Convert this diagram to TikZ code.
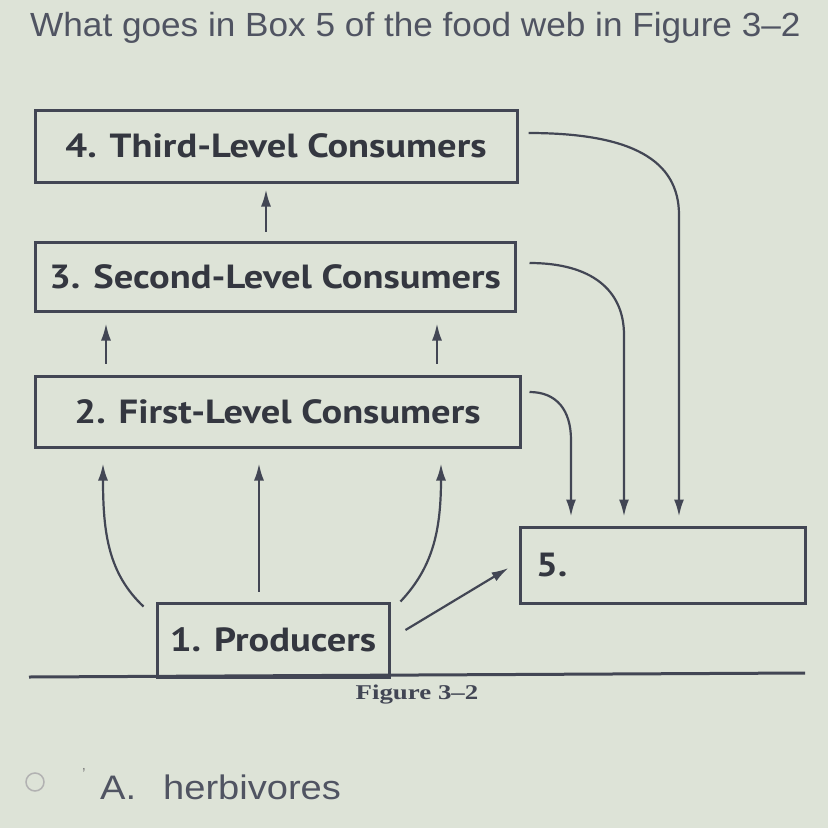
\documentclass[tikz,border=0pt]{standalone}
\usepackage{fontspec}
\setmainfont{Liberation Sans}
\newfontfamily\boxfont[FakeStretch=1.15]{PT Sans}
\newfontfamily\capfont[FakeStretch=1.28]{Liberation Serif}
\newfontfamily\qfont[FakeStretch=1.05]{Liberation Sans}
\newfontfamily\optfont[FakeStretch=1.12]{Liberation Sans}
\usetikzlibrary{arrows.meta}
\definecolor{paper}{RGB}{221,227,215}
\definecolor{ink}{RGB}{66,70,84}
\definecolor{boxtext}{RGB}{52,55,64}
\definecolor{qtext}{RGB}{80,84,98}

\begin{document}
\begin{tikzpicture}[x=1pt,y=-1pt,>={Latex[length=17pt,width=10pt]},
  box/.style={draw=ink,line width=3pt,inner sep=0pt,text=boxtext,
    font=\boxfont\bfseries\fontsize{33.5}{38}\selectfont},
  arr/.style={->,draw=ink,line width=2.2pt}]
\useasboundingbox (0,0) rectangle (828,828);
\clip (0,0) rectangle (828,828);
\fill[paper] (0,0) rectangle (828,828);

% question
\node[anchor=base west,inner sep=0pt,text=qtext,font=\qfont\fontsize{33.5}{38}\selectfont] (question) at (30,36) {What goes in Box 5 of the food web in Figure 3–2};

% the food web
\node[box,minimum width=482,minimum height=72] (third) at (276,146) {4. Third-Level Consumers};
\node[box,minimum width=480,minimum height=69] (second) at (275,276.5) {3. Second-Level Consumers};
\node[box,minimum width=485,minimum height=71] (first) at (277.5,411.5) {2. First-Level Consumers};
\node[box,minimum width=232,minimum height=74] (producers) at (273,640) {1. Producers};
\node[box,minimum width=285,minimum height=76,text width=253pt,align=left] (fifth) at (662.5,565) {5.};
\draw[draw=ink,line width=3pt] (29,677) -- (805,673); % ground line
\node[anchor=base,inner sep=0pt,text=ink,font=\capfont\bfseries\fontsize{21}{24}\selectfont] (caption) at (417,699) {Figure 3–2};

% up the chain
\draw[arr] ([xshift=-9pt,yshift=9pt]second.north) -- ([xshift=-10pt,yshift=-6pt]third.south);
\draw[arr] ([xshift=-171.5pt,yshift=11pt]first.north) -- ([xshift=-169pt,yshift=-11pt]second.south);
\draw[arr] ([xshift=159.5pt,yshift=11pt]first.north) -- ([xshift=162pt,yshift=-11pt]second.south);
\draw[arr] ([xshift=-12pt,yshift=-5pt]producers.north west) .. controls +(-35,-33) and +(0,70) .. ([xshift=-174.5pt,yshift=-15pt]first.south);
\draw[arr] ([xshift=-14pt,yshift=10pt]producers.north) -- ([xshift=-18.5pt,yshift=-15pt]first.south);
\draw[arr] ([xshift=10pt]producers.north east) .. controls +(31,-33) and +(0,70) .. ([xshift=163.5pt,yshift=-15pt]first.south);

% into box 5
\draw[arr] ([xshift=15pt,yshift=10pt]producers.east) -- ([xshift=-10pt,yshift=-3pt]fifth.west);
\draw[arr] ([xshift=8pt,yshift=19.5pt]first.east) .. controls +(27,0) and +(0,-30) .. (571,440) -- ([xshift=-91.5pt,yshift=9pt]fifth.north);
\draw[arr] ([xshift=13pt,yshift=13.5pt]second.east) .. controls +(62,0) and +(0,-45) .. (624,335) -- ([xshift=-38.5pt,yshift=9pt]fifth.north);
\draw[arr] ([xshift=10pt,yshift=13pt]third.east) .. controls +(103,0) and +(0,-55) .. (679,215) -- ([xshift=16.5pt,yshift=9pt]fifth.north);

% answer option
\node[circle,draw=gray!60,line width=1.5pt,minimum size=18pt,inner sep=0pt] (radioA) at (35,782) {};
\node[anchor=base west,inner sep=0pt,text=gray,font=\fontsize{16}{18}\selectfont] (tick) at (82,779) {'};
\node[anchor=base west,inner sep=0pt,text=qtext,font=\optfont\fontsize{34}{38}\selectfont] (optA) at (100,799) {A.};
\node[anchor=base west,inner sep=0pt,text=qtext,font=\optfont\fontsize{34}{38}\selectfont] (herb) at (163,799) {herbivores};
\end{tikzpicture}
\end{document}
